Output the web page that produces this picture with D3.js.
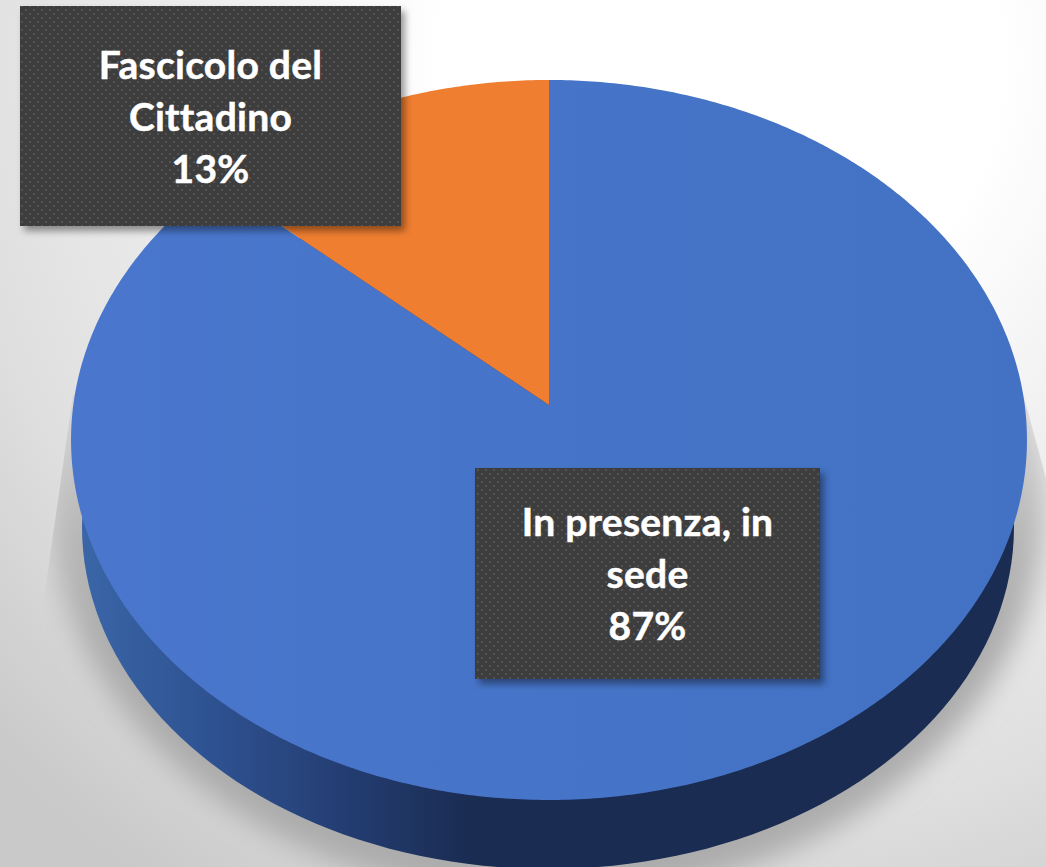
<!DOCTYPE html>
<html><head><meta charset="utf-8">
<script src="https://cdnjs.cloudflare.com/ajax/libs/d3/7.8.5/d3.min.js"></script>
<style>html,body{margin:0;padding:0;background:#fff;overflow:hidden}svg{display:block}</style>
</head><body><svg id="c" width="1046" height="867"></svg>
<script>
const categories = ["In presenza, in sede", "Fascicolo del Cittadino"];
const values = [86.6, 13.4];
const labelLines = [["In presenza, in", "sede"], ["Fascicolo del", "Cittadino"]];
const sliceColors = ["url(#faceBlue)", "#ef7e30"];
const labelBoxes = [{x:475,y:468,w:345,h:211,base:536},{x:20,y:6,w:381,h:220,base:79}];

const W = 1046, H = 867;
const svg = d3.select("#c");
const defs = svg.append("defs");

// background
const bg = defs.append("radialGradient").attr("id","bg").attr("gradientUnits","userSpaceOnUse")
  .attr("cx",720).attr("cy",60).attr("r",1000);
[[0,"#fff"],[.28,"#fff"],[.5,"#efefef"],[.75,"#e0e0e0"],[1,"#c9c9c9"]].forEach(s=>bg.append("stop").attr("offset",s[0]).attr("stop-color",s[1]));

const face = defs.append("linearGradient").attr("id","faceBlue").attr("gradientUnits","userSpaceOnUse")
  .attr("x1",70).attr("x2",1026).attr("y1",0).attr("y2",0);
[[0,"#4a77cd"],[.5,"#4674c8"],[1,"#4371c3"]].forEach(s=>face.append("stop").attr("offset",s[0]).attr("stop-color",s[1]));

const wall = defs.append("linearGradient").attr("id","wall").attr("gradientUnits","userSpaceOnUse")
  .attr("x1",80).attr("x2",470).attr("y1",0).attr("y2",0);
[[0,"#3a66a8"],[.35,"#2e5190"],[.7,"#233c70"],[1,"#1a2c52"]].forEach(s=>wall.append("stop").attr("offset",s[0]).attr("stop-color",s[1]));

const shade = defs.append("linearGradient").attr("id","shade").attr("gradientUnits","userSpaceOnUse")
  .attr("x1",0).attr("x2",0).attr("y1",390).attr("y2",640);
[[0,"#d4d4d4"],[.6,"#b6b6b6"],[1,"#acacac"]].forEach(s=>shade.append("stop").attr("offset",s[0]).attr("stop-color",s[1]));

defs.append("filter").attr("id","blur").attr("x","-20%").attr("y","-20%").attr("width","140%").attr("height","140%")
  .append("feGaussianBlur").attr("stdDeviation",14);
defs.append("clipPath").attr("id","shClip").append("polygon")
  .attr("points","73,395 1022,390 1090,640 1090,867 -40,867 10,830 38,640");
const bs = defs.append("filter").attr("id","boxShadow").attr("x","-10%").attr("y","-10%").attr("width","125%").attr("height","125%");
bs.append("feDropShadow").attr("dx",4).attr("dy",5).attr("stdDeviation",3.5).attr("flood-color","#000").attr("flood-opacity",.4);
const pat = defs.append("pattern").attr("id","dots").attr("patternUnits","userSpaceOnUse").attr("width",8).attr("height",8);
pat.append("rect").attr("width",8).attr("height",8).attr("fill","#3c3c3c");
[[1,1],[5,5]].forEach(p=>pat.append("rect").attr("x",p[0]).attr("y",p[1]).attr("width",2).attr("height",2).attr("fill","#525252"));

svg.append("rect").attr("width",W).attr("height",H).attr("fill","url(#bg)");

// perspective projection of a unit disc onto the page
const persp = -0.0972;
const sx = d3.scaleLinear().domain([-1,1]).range([549-475.7,549+475.7]);
const sy = d3.scaleLinear().domain([-1,1]).range([405-356.6,405+356.6]);
const project = (u,v) => { const d = 1+persp*v; return [549+(sx(u)-549)/d, 405+(sy(v)-405)/d]; };
const line = d3.line();
const circlePts = (cx,cy,rx,ry) => d3.range(0,361,2).map(a=>[cx+rx*Math.sin(a*Math.PI/180),cy-ry*Math.cos(a*Math.PI/180)]);

// shadow
svg.append("g").attr("clip-path","url(#shClip)").append("ellipse")
  .attr("cx",548).attr("cy",500).attr("rx",498).attr("ry",400)
  .attr("fill","url(#shade)").attr("filter","url(#blur)");

// side wall (lower rim)
svg.append("path").attr("d",line(circlePts(548,527,466,342))+"Z").attr("fill","url(#wall)");

// top face
const arcs = d3.pie().sort(null).value(d=>d)(values);
svg.append("g").selectAll("path").data(arcs).join("path")
  .attr("d",d=>{
    const n = Math.ceil((d.endAngle-d.startAngle)/0.01);
    const pts = d3.range(n+1).map(i=>{const a=d.startAngle+(d.endAngle-d.startAngle)*i/n;return project(Math.sin(a),-Math.cos(a));});
    pts.push(project(0,0));
    return line(pts)+"Z";
  })
  .attr("fill",(d,i)=>sliceColors[i]);

// labels
const total = d3.sum(values), pct = d3.format(".0%");
const g = svg.append("g").selectAll("g").data(categories).join("g");
g.append("rect").attr("x",(d,i)=>labelBoxes[i].x).attr("y",(d,i)=>labelBoxes[i].y)
  .attr("width",(d,i)=>labelBoxes[i].w).attr("height",(d,i)=>labelBoxes[i].h)
  .attr("fill","url(#dots)").attr("filter","url(#boxShadow)");
g.each(function(d,i){
  const b = labelBoxes[i];
  const rows = labelLines[i].concat(pct(values[i]/total));
  d3.select(this).selectAll("text").data(rows).join("text")
    .attr("x",b.x+b.w/2).attr("y",(r,j)=>b.base+j*52)
    .attr("text-anchor","middle").attr("fill","#fff").attr("stroke","#fff").attr("stroke-width",.5)
    .attr("font-family","Lato, sans-serif").attr("font-weight",700).attr("font-size",39).attr("letter-spacing",.25)
    .text(r=>r);
});
</script></body></html>
